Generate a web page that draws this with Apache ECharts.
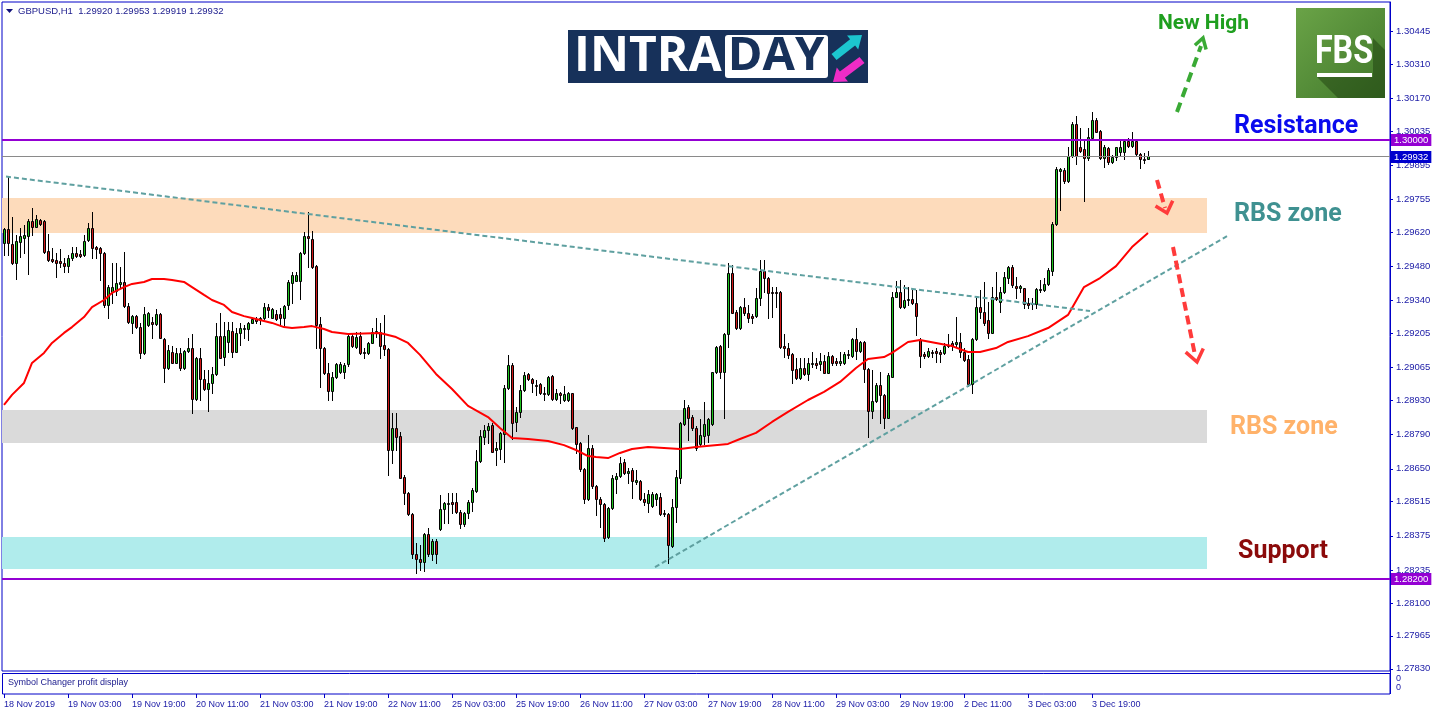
<!DOCTYPE html>
<html><head><meta charset="utf-8">
<script src="https://cdn.jsdelivr.net/npm/echarts@6/dist/echarts.min.js"></script>
<style>html,body{margin:0;padding:0;background:#fff}#c{width:1436px;height:716px}</style>
</head><body><div id="c"></div>
<script>
// ---------------- DATA ----------------
const symbolTitle = 'GBPUSD,H1';
const lastQuote = [1.29920, 1.29953, 1.29919, 1.29932]; // O H L C of last bar
const startTime = '2019-11-18T11:00:00Z';
const slotCount = 347;        // bars + empty right margin of the chart
const labelEvery = 16;

const opens = [
1.29576,1.29632,1.29572,1.29492,1.29581,1.29597,1.29606,1.29666,1.29643,1.29670,
1.29666,1.29543,1.29510,1.29506,1.29502,1.29492,1.29483,1.29513,1.29533,1.29529,
1.29527,1.29588,1.29636,1.29558,1.29554,1.29533,1.29322,1.29376,1.29380,1.29406,
1.29416,1.29319,1.29249,1.29276,1.29232,1.29123,1.29240,1.29253,1.29242,1.29285,
1.29181,1.29062,1.29130,1.29085,1.29126,1.29062,1.29134,1.29144,1.28935,1.29105,
1.29017,1.28977,1.29000,1.29037,1.29194,1.29110,1.29171,1.29215,1.29130,1.29208,
1.29222,1.29222,1.29249,1.29263,1.29260,1.29267,1.29315,1.29270,1.29285,1.29285,
1.29267,1.29322,1.29413,1.29421,1.29421,1.29533,1.29604,1.29591,1.29481,1.29242,
1.29144,1.29044,1.28970,1.29025,1.29048,1.29048,1.29078,1.29194,1.29150,1.29194,
1.29128,1.29123,1.29167,1.29210,1.29212,1.29158,1.29140,1.28727,1.28816,1.28784,
1.28615,1.28549,1.28463,1.28299,1.28280,1.28269,1.28381,1.28299,1.28355,1.28402,
1.28485,1.28504,1.28514,1.28513,1.28474,1.28422,1.28467,1.28513,1.28560,1.28682,
1.28781,1.28809,1.28830,1.28727,1.28730,1.28791,1.28980,1.29075,1.28843,1.28884,
1.28973,1.29039,1.29018,1.28994,1.28998,1.28959,1.28955,1.29030,1.28935,1.28959,
1.28932,1.28932,1.28959,1.28820,1.28755,1.28649,1.28525,1.28734,1.28579,1.28525,
1.28505,1.28369,1.28488,1.28608,1.28622,1.28677,1.28631,1.28645,1.28597,1.28601,
1.28525,1.28508,1.28497,1.28525,1.28536,1.28470,1.28463,1.28333,1.28492,1.28611,
1.28834,1.28902,1.28861,1.28818,1.28750,1.28786,1.28789,1.28832,1.29046,1.29153,
1.29048,1.29203,1.29451,1.29294,1.29226,1.29315,1.29287,1.29278,1.29278,1.29352,
1.29461,1.29433,1.29374,1.29374,1.29374,1.29153,1.29144,1.29119,1.29059,1.29023,
1.29062,1.29039,1.29078,1.29083,1.29078,1.29092,1.29044,1.29112,1.29092,1.29083,
1.29083,1.29121,1.29114,1.29182,1.29133,1.29169,1.29059,1.28888,1.28929,1.28994,
1.28953,1.28859,1.29028,1.29356,1.29376,1.29315,1.29342,1.29346,1.29328,1.29178,
1.29119,1.29114,1.29130,1.29133,1.29130,1.29123,1.29158,1.29164,1.29160,1.29171,
1.29130,1.29099,1.28996,1.29181,1.29312,1.29292,1.29260,1.29208,1.29353,1.29335,
1.29374,1.29431,1.29476,1.29399,1.29393,1.29390,1.29328,1.29324,1.29326,1.29382,
1.29383,1.29408,1.29462,1.29654,1.29872,1.29875,1.29831,1.29932,1.30064,1.29968,
1.29960,1.29923,1.30005,1.30080,1.30035,1.29923,1.29966,1.29906,1.29930,1.29948,
1.29948,1.29994,1.29975,1.29994,1.29939,1.29920,1.29920];

const highs = [
1.29637,1.29848,1.29684,1.29609,1.29636,1.29650,1.29673,1.29721,1.29691,1.29673,
1.29670,1.29613,1.29554,1.29533,1.29551,1.29513,1.29527,1.29558,1.29561,1.29547,
1.29609,1.29656,1.29702,1.29563,1.29561,1.29540,1.29404,1.29492,1.29492,1.29476,
1.29540,1.29328,1.29281,1.29281,1.29246,1.29315,1.29294,1.29274,1.29304,1.29287,
1.29185,1.29158,1.29155,1.29144,1.29144,1.29137,1.29185,1.29203,1.29110,1.29144,
1.29055,1.29055,1.29069,1.29246,1.29287,1.29253,1.29253,1.29253,1.29226,1.29246,
1.29240,1.29253,1.29267,1.29274,1.29274,1.29331,1.29324,1.29308,1.29301,1.29308,
1.29322,1.29424,1.29458,1.29458,1.29540,1.29622,1.29702,1.29625,1.29486,1.29274,
1.29150,1.29083,1.29048,1.29083,1.29088,1.29083,1.29205,1.29205,1.29212,1.29212,
1.29144,1.29171,1.29226,1.29267,1.29246,1.29281,1.29144,1.28877,1.28877,1.28802,
1.28625,1.28556,1.28467,1.28344,1.28337,1.28385,1.28406,1.28361,1.28361,1.28543,
1.28515,1.28552,1.28552,1.28549,1.28481,1.28474,1.28522,1.28570,1.28727,1.28809,
1.28830,1.28836,1.28836,1.28761,1.28802,1.28994,1.29117,1.29083,1.28905,1.28994,
1.29048,1.29044,1.29021,1.29014,1.29003,1.28987,1.29030,1.29035,1.28976,1.28966,
1.28989,1.28966,1.28962,1.28823,1.28761,1.28652,1.28789,1.28747,1.28584,1.28536,
1.28508,1.28495,1.28625,1.28631,1.28699,1.28689,1.28652,1.28652,1.28645,1.28604,
1.28549,1.28563,1.28556,1.28552,1.28552,1.28481,1.28467,1.28525,1.28645,1.28843,
1.28932,1.28912,1.28871,1.28825,1.28854,1.28925,1.28857,1.29048,1.29155,1.29158,
1.29205,1.29492,1.29486,1.29301,1.29319,1.29349,1.29322,1.29285,1.29390,1.29506,
1.29506,1.29438,1.29397,1.29397,1.29379,1.29201,1.29164,1.29123,1.29103,1.29103,
1.29103,1.29103,1.29130,1.29103,1.29123,1.29117,1.29130,1.29117,1.29103,1.29130,
1.29130,1.29137,1.29185,1.29226,1.29174,1.29174,1.29062,1.29055,1.29000,1.29048,
1.28955,1.29041,1.29376,1.29420,1.29424,1.29404,1.29397,1.29392,1.29383,1.29185,
1.29130,1.29144,1.29137,1.29144,1.29137,1.29164,1.29201,1.29174,1.29274,1.29205,
1.29144,1.29117,1.29185,1.29352,1.29383,1.29417,1.29335,1.29397,1.29458,1.29397,
1.29458,1.29483,1.29486,1.29438,1.29404,1.29393,1.29349,1.29352,1.29390,1.29424,
1.29431,1.29472,1.29663,1.29889,1.29884,1.29882,1.29971,1.30073,1.30096,1.30046,
1.29998,1.30046,1.30114,1.30087,1.30039,1.29977,1.29971,1.29937,1.29971,1.29998,
1.29998,1.30005,1.30030,1.29998,1.29943,1.29946,1.29953];

const lows = [
1.29527,1.29527,1.29490,1.29427,1.29517,1.29533,1.29449,1.29609,1.29640,1.29650,
1.29536,1.29503,1.29499,1.29438,1.29479,1.29458,1.29458,1.29506,1.29520,1.29517,
1.29522,1.29583,1.29513,1.29513,1.29424,1.29315,1.29267,1.29328,1.29363,1.29397,
1.29315,1.29246,1.29205,1.29226,1.29103,1.29121,1.29237,1.29185,1.29240,1.29185,
1.29005,1.29059,1.29083,1.29083,1.29055,1.29059,1.29130,1.28880,1.28932,1.28932,
1.28973,1.28888,1.28959,1.29035,1.29103,1.29075,1.29130,1.29110,1.29128,1.29158,
1.29185,1.29178,1.29246,1.29246,1.29244,1.29264,1.29274,1.29267,1.29260,1.29240,
1.29240,1.29304,1.29331,1.29420,1.29345,1.29531,1.29479,1.29474,1.29144,1.28987,
1.29039,1.28932,1.28932,1.29021,1.29041,1.29021,1.29073,1.29150,1.29146,1.29121,
1.29105,1.29119,1.29164,1.29192,1.29103,1.29117,1.28625,1.28672,1.28727,1.28611,
1.28505,1.28460,1.28283,1.28221,1.28235,1.28231,1.28292,1.28276,1.28265,1.28399,
1.28429,1.28429,1.28470,1.28467,1.28406,1.28415,1.28447,1.28478,1.28556,1.28677,
1.28752,1.28755,1.28717,1.28666,1.28689,1.28679,1.28976,1.28771,1.28806,1.28864,
1.28970,1.29014,1.28966,1.28953,1.28955,1.28932,1.28953,1.28932,1.28932,1.28919,
1.28929,1.28928,1.28814,1.28713,1.28642,1.28511,1.28522,1.28570,1.28460,1.28413,
1.28355,1.28365,1.28484,1.28552,1.28618,1.28627,1.28590,1.28529,1.28588,1.28522,
1.28502,1.28474,1.28495,1.28502,1.28460,1.28456,1.28262,1.28331,1.28433,1.28593,
1.28830,1.28768,1.28809,1.28727,1.28747,1.28750,1.28761,1.28830,1.29041,1.29023,
1.28857,1.29150,1.29287,1.29223,1.29223,1.29281,1.29253,1.29246,1.29274,1.29322,
1.29376,1.29267,1.29274,1.29315,1.29144,1.29110,1.29103,1.29000,1.29018,1.29018,
1.29035,1.29014,1.29069,1.29062,1.29055,1.29041,1.29041,1.29075,1.29075,1.29075,
1.29078,1.29103,1.29110,1.29100,1.29128,1.29005,1.28781,1.28857,1.28925,1.28836,
1.28818,1.28857,1.29028,1.29353,1.29308,1.29308,1.29322,1.29324,1.29199,1.29069,
1.29103,1.29110,1.29110,1.29087,1.29089,1.29119,1.29150,1.29137,1.29150,1.29110,
1.29092,1.28991,1.28959,1.29178,1.29267,1.29240,1.29185,1.29205,1.29342,1.29294,
1.29369,1.29410,1.29397,1.29349,1.29376,1.29310,1.29308,1.29305,1.29308,1.29376,
1.29379,1.29404,1.29445,1.29650,1.29711,1.29820,1.29825,1.29930,1.29900,1.29950,
1.29749,1.29916,1.30001,1.30030,1.29920,1.29889,1.29900,1.29902,1.29916,1.29934,
1.29919,1.29971,1.29971,1.29937,1.29884,1.29902,1.29919];

const closes = [
1.29633,1.29575,1.29492,1.29584,1.29604,1.29609,1.29666,1.29643,1.29673,1.29652,
1.29540,1.29506,1.29503,1.29492,1.29492,1.29483,1.29513,1.29533,1.29524,1.29522,
1.29584,1.29636,1.29554,1.29552,1.29533,1.29322,1.29397,1.29397,1.29410,1.29416,
1.29319,1.29253,1.29276,1.29230,1.29123,1.29285,1.29287,1.29242,1.29285,1.29185,
1.29062,1.29137,1.29085,1.29126,1.29062,1.29133,1.29144,1.28935,1.29103,1.29017,
1.28977,1.29000,1.29037,1.29194,1.29105,1.29194,1.29219,1.29130,1.29208,1.29226,
1.29228,1.29249,1.29263,1.29257,1.29270,1.29315,1.29301,1.29304,1.29264,1.29267,
1.29317,1.29417,1.29443,1.29443,1.29533,1.29604,1.29595,1.29479,1.29240,1.29144,
1.29041,1.28970,1.29025,1.29078,1.29078,1.29075,1.29194,1.29155,1.29192,1.29123,
1.29123,1.29167,1.29212,1.29215,1.29155,1.29140,1.28727,1.28816,1.28781,1.28613,
1.28549,1.28463,1.28299,1.28279,1.28269,1.28381,1.28299,1.28355,1.28299,1.28484,
1.28508,1.28508,1.28507,1.28472,1.28422,1.28470,1.28515,1.28563,1.28682,1.28786,
1.28809,1.28825,1.28720,1.28736,1.28795,1.28980,1.29075,1.28839,1.28884,1.28973,
1.29035,1.29017,1.29000,1.28989,1.28959,1.28957,1.29028,1.28935,1.28959,1.28953,
1.28955,1.28959,1.28818,1.28750,1.28648,1.28525,1.28734,1.28579,1.28525,1.28505,
1.28365,1.28488,1.28611,1.28620,1.28672,1.28631,1.28642,1.28600,1.28604,1.28525,
1.28513,1.28545,1.28545,1.28545,1.28463,1.28465,1.28337,1.28492,1.28615,1.28836,
1.28898,1.28859,1.28816,1.28734,1.28789,1.28832,1.28854,1.29046,1.29150,1.29048,
1.29201,1.29451,1.29290,1.29226,1.29315,1.29287,1.29269,1.29269,1.29352,1.29461,
1.29433,1.29369,1.29369,1.29369,1.29150,1.29144,1.29117,1.29055,1.29021,1.29062,
1.29039,1.29083,1.29083,1.29075,1.29092,1.29044,1.29112,1.29083,1.29083,1.29092,
1.29121,1.29117,1.29182,1.29133,1.29169,1.29059,1.28888,1.28929,1.28994,1.28953,
1.28859,1.29035,1.29356,1.29376,1.29315,1.29342,1.29346,1.29328,1.29278,1.29114,
1.29114,1.29133,1.29123,1.29123,1.29121,1.29155,1.29155,1.29155,1.29171,1.29130,
1.29096,1.28996,1.29181,1.29312,1.29292,1.29246,1.29205,1.29353,1.29346,1.29374,
1.29435,1.29476,1.29404,1.29390,1.29399,1.29326,1.29322,1.29328,1.29386,1.29387,
1.29408,1.29465,1.29654,1.29878,1.29878,1.29831,1.29932,1.30064,1.29934,1.29954,
1.29923,1.30009,1.30080,1.30032,1.29923,1.29968,1.29906,1.29930,1.29968,1.29968,
1.29994,1.29975,1.29994,1.29939,1.29919,1.29916,1.29932];

// moving average: [bar index, value]
const maPoints = [[0,1.28912],[2,1.28953],[5,1.29002],[7,1.29084],[10,1.29125],[12,1.29166],[15,1.29207],[17,1.29231],[20,1.29272],[22,1.29313],[25,1.29342],[27,1.29371],[30,1.29395],[32,1.29408],[35,1.29416],[37,1.29428],[40,1.29428],[42,1.29424],[45,1.29416],[47,1.29395],[50,1.29363],[52,1.29342],[55,1.29322],[57,1.29293],[60,1.29276],[62,1.29268],[65,1.29256],[67,1.29248],[70,1.29231],[72,1.29227],[75,1.29231],[77,1.29235],[80,1.29223],[82,1.29211],[86,1.29203],[94,1.29207],[98,1.29190],[101,1.29166],[104,1.29117],[108,1.29039],[112,1.28977],[116,1.28908],[121,1.28862],[124,1.28817],[127,1.28776],[131,1.28772],[136,1.28764],[140,1.28747],[143,1.28727],[146,1.28702],[148,1.28698],[151,1.28694],[154,1.28715],[157,1.28731],[161,1.28739],[165,1.28735],[169,1.28731],[173,1.28739],[181,1.28752],[184,1.28772],[188,1.28797],[192,1.28842],[196,1.28883],[201,1.28932],[205,1.28965],[209,1.29006],[213,1.29063],[216,1.29100],[220,1.29108],[222,1.29125],[226,1.29170],[229,1.29178],[233,1.29166],[237,1.29153],[241,1.29129],[244,1.29129],[248,1.29145],[251,1.29170],[256,1.29194],[261,1.29227],[266,1.29281],[270,1.29395],[274,1.29432],[278,1.29481],[282,1.29559],[286,1.29617]];

const priceTicks = [1.30445,1.30310,1.30170,1.30035,1.29895,1.29755,1.29620,1.29480,1.29340,1.29205,1.29065,1.28930,1.28790,1.28650,1.28515,1.28375,1.28235,1.28100,1.27965,1.27830];
const priceMin = 1.278209, priceMax = 1.305638;

const resistanceLevel = 1.30000;
const supportLevel = 1.28200;
const bidLevel = lastQuote[3];
const levels = [[0, resistanceLevel], [0, supportLevel], [0, bidLevel]];

// zones: [startBar, endBar, low, high]
const zones = [
  [-0.5, 300.75, 1.29617, 1.29760],
  [-0.5, 300.75, 1.28756, 1.28891],
  [-0.5, 300.75, 1.28239, 1.28370]
];
const trendDown = [[0.5, 1.29848], [271.5, 1.29297]];
const trendUp = [[162.75, 1.28247], [305.75, 1.29604]];

// ---------------- BUILD ----------------
const MONTHS = ['Jan','Feb','Mar','Apr','May','Jun','Jul','Aug','Sep','Oct','Nov','Dec'];
const categories = [];
let t = Date.parse(startTime);
for (let i = 0; i < slotCount; i++) {
  const d = new Date(t);
  const day = d.getUTCDate() + ' ' + MONTHS[d.getUTCMonth()];
  categories.push(i === 0 ? day + ' ' + d.getUTCFullYear() : day + ' ' + String(d.getUTCHours()).padStart(2, '0') + ':00');
  t += 3600e3;
  if (new Date(t).getUTCDay() === 6) t += 48 * 3600e3;
}
const candleData = opens.map((o, i) => [i, o, closes[i], lows[i], highs[i]]);
const showTick = (idx) => idx % labelEvery === 0 && idx < opens.length;

const BLUE = '#0000c8', TXT = '#2020a8';
const BULL = '#1ec31e', BEAR = '#d01818';
const zoneColors = ['#fddbbb', '#dadada', '#b0ecec'];
const levelStyles = [
  {line: '#9400d3', width: 2, box: '#9400d3'},
  {line: '#9400d3', width: 2, box: '#9400d3'},
  {line: '#8a8a8a', width: 1, box: '#0000cd'}
];

const chart = echarts.init(document.getElementById('c'), null, {renderer: 'canvas'});
const header = symbolTitle + '  ' + lastQuote.map(v => v.toFixed(5)).join(' ');

const G = echarts.graphic;
const dashed = (pts, color, w, dash) => ({type: 'polyline', z: 50, shape: {points: pts}, style: {stroke: color, lineWidth: w, lineDash: dash, fill: null}});
const head = (pts, color) => ({type: 'polyline', z: 50, shape: {points: pts}, style: {stroke: color, lineWidth: 3.5, fill: null, lineJoin: 'miter'}});
const label = (x, y, text, color, size) => ({type: 'text', z: 50, x, y, style: {text, fill: color, fontSize: size, fontWeight: 'bold', fontFamily: 'Roboto', verticalAlign: 'middle'}});

const graphics = [
  {type: 'polygon', z: 50, shape: {points: [[6, 9], [13, 9], [9.5, 13]]}, style: {fill: '#10107a'}},
  {type: 'text', z: 50, x: 18, y: 11, style: {text: header, fill: '#1a1a8c', fontSize: 9.5, fontFamily: 'Liberation Sans', verticalAlign: 'middle'}},
  {type: 'rect', z: 5, shape: {x: 2.5, y: 673.5, width: 1387.5, height: 20.5}, style: {fill: '#fff', stroke: BLUE, lineWidth: 1}},
  {type: 'text', z: 50, x: 8, y: 683, style: {text: 'Symbol Changer profit display', fill: '#1a1a8c', fontSize: 9, fontFamily: 'Liberation Sans', verticalAlign: 'middle'}},
  {type: 'text', z: 50, x: 1396, y: 679, style: {text: '0', fill: TXT, fontSize: 9, fontFamily: 'Liberation Sans', verticalAlign: 'middle'}},
  {type: 'text', z: 50, x: 1396, y: 688, style: {text: '0', fill: TXT, fontSize: 9, fontFamily: 'Liberation Sans', verticalAlign: 'middle'}},
  {type: 'rect', z: 40, shape: {x: 568, y: 30, width: 300, height: 53}, style: {fill: '#17315a'}},
  {type: 'text', z: 41, x: 574, y: 57, style: {text: 'INTRA', fill: '#fff', fontSize: 48, fontWeight: 'bold', fontFamily: 'Open Sans', verticalAlign: 'middle'}},
  {type: 'rect', z: 41, shape: {x: 725, y: 35, width: 103, height: 43, r: 3}, style: {fill: '#fff'}},
  {type: 'text', z: 42, x: 776, y: 57, style: {text: 'DAY', fill: '#17315a', fontSize: 47, fontWeight: 'bold', fontFamily: 'Open Sans', align: 'center', verticalAlign: 'middle'}},
  {type: 'polygon', z: 42, shape: {points: [[831.5, 53.9], [850.1, 39.3], [847, 35.4], [862, 35], [858.2, 49.4], [855.1, 45.5], [836.5, 60.1]]}, style: {fill: '#1cc6cf'}},
  {type: 'polygon', z: 42, shape: {points: [[859.5, 56.9], [839.9, 71.5], [836.8, 67.6], [833, 82], [848, 81.6], [844.9, 77.7], [864.5, 63.1]]}, style: {fill: '#ee2cc6'}},
  {type: 'rect', z: 40, shape: {x: 1296, y: 8, width: 89, height: 90}, style: {fill: new G.LinearGradient(0, 0, 1, 1, [{offset: 0, color: '#6aa347'}, {offset: 1, color: '#41782b'}])}},
  {type: 'polygon', z: 41, shape: {points: [[1373, 38], [1385, 50], [1385, 98], [1338, 98], [1317, 77], [1373, 77]]}, style: {fill: 'rgba(25,55,12,0.45)'}},
  {type: 'text', z: 42, x: 1344, y: 53, scaleX: 0.85, style: {text: 'FBS', fill: '#fff', fontSize: 38, fontWeight: 'bold', fontFamily: 'Roboto', align: 'center', verticalAlign: 'middle'}},
  {type: 'rect', z: 42, shape: {x: 1317, y: 73, width: 55, height: 4}, style: {fill: '#fff'}},
  label(1158, 24, 'New High', '#1f9f1f', 21),
  label(1234, 127, 'Resistance', '#0a0aee', 25),
  label(1234, 215, 'RBS zone', '#3f9191', 25),
  label(1230, 428, 'RBS zone', '#ffb26a', 25),
  label(1238, 552, 'Support', '#8b0a0a', 25),
  dashed([[1177, 112], [1201, 46]], '#3aaa35', 4, [10, 6]),
  head([[1194.9, 45.3], [1203, 38], [1206.1, 49.5]], '#3aaa35'),
  dashed([[1157, 180], [1165, 208]], '#ff3b3b', 4, [9, 5]),
  head([[1155.5, 206], [1167, 213], [1172.7, 200.8]], '#ff3b3b'),
  dashed([[1173, 247], [1195, 355]], '#ff3b3b', 4, [9, 5]),
  head([[1185.7, 352.1], [1197, 362], [1203.3, 348.5]], '#ff3b3b'),
  {type: 'line', z: 6, shape: {x1: 1390.5, y1: 671, x2: 1390.5, y2: 694}, style: {stroke: BLUE, lineWidth: 1}}
];

chart.setOption({
  animation: false,
  backgroundColor: '#fff',
  grid: {left: 2, right: 46, top: 2, bottom: 45, show: true, borderColor: BLUE, borderWidth: 1, backgroundColor: 'transparent'},
  xAxis: [
    {type: 'category', data: categories, boundaryGap: true, offset: 23,
     axisLine: {show: false},
     axisTick: {show: true, interval: showTick, alignWithLabel: true, length: 4, lineStyle: {color: BLUE}},
     axisLabel: {interval: showTick, align: 'left', color: TXT, fontSize: 9, fontFamily: 'Liberation Sans', margin: 6}},
    {type: 'value', min: -0.5, max: slotCount - 0.5, show: false}
  ],
  yAxis: {type: 'value', position: 'right', min: priceMin, max: priceMax, scale: true,
    splitLine: {show: false},
    axisLine: {show: true, onZero: false, lineStyle: {color: BLUE}},
    axisTick: {show: true, customValues: priceTicks, length: 3, lineStyle: {color: BLUE}},
    axisLabel: {customValues: priceTicks, formatter: v => v.toFixed(5), color: TXT, fontSize: 9.5, fontFamily: 'Liberation Sans', margin: 6}},
  series: [
    {type: 'custom', name: 'zones', xAxisIndex: 1, z: 1, silent: true, clip: true,
     encode: {x: [0, 1], y: [2, 3]}, data: zones,
     renderItem: (params, api) => {
       const p0 = api.coord([api.value(0), api.value(3)]);
       const p1 = api.coord([api.value(1), api.value(2)]);
       return {type: 'rect', shape: {x: p0[0], y: p0[1], width: p1[0] - p0[0], height: p1[1] - p0[1]}, style: {fill: zoneColors[params.dataIndex]}};
     }},
    {type: 'custom', name: 'GBPUSD', xAxisIndex: 0, z: 2, silent: true, clip: true,
     encode: {x: 0, y: [1, 2, 3, 4]}, data: candleData,
     renderItem: (params, api) => {
       const i = api.value(0), o = api.value(1), c = api.value(2), l = api.value(3), h = api.value(4);
       const pO = api.coord([i, o]), pC = api.coord([i, c]), pL = api.coord([i, l]), pH = api.coord([i, h]);
       const cx = Math.round(pO[0]);
       const yTop = Math.round(Math.min(pO[1], pC[1])), yBot = Math.round(Math.max(pO[1], pC[1]));
       return {type: 'group', children: [
         {type: 'line', shape: {x1: cx + 0.5, y1: Math.round(pH[1]), x2: cx + 0.5, y2: Math.round(pL[1]) + 1}, style: {stroke: '#000', lineWidth: 1}},
         {type: 'rect', shape: {x: cx - 0.5, y: yTop + 0.5, width: 2, height: Math.max(yBot - yTop, 0)}, style: {fill: c >= o ? BULL : BEAR, stroke: '#000', lineWidth: 1}}
       ]};
     }},
    {type: 'line', name: 'MA', xAxisIndex: 1, z: 4, data: maPoints, showSymbol: false, silent: true,
     lineStyle: {color: '#ff0000', width: 2}},
    {type: 'line', name: 'trendDown', xAxisIndex: 1, z: 5, data: trendDown, showSymbol: false, silent: true,
     lineStyle: {color: '#5fa0a0', width: 2, type: [5, 3]}},
    {type: 'line', name: 'trendUp', xAxisIndex: 1, z: 5, data: trendUp, showSymbol: false, silent: true,
     lineStyle: {color: '#5fa0a0', width: 2, type: [5, 3]}},
    {type: 'custom', name: 'levels', xAxisIndex: 1, z: 6, silent: true, clip: false,
     encode: {x: 0, y: 1}, data: levels,
     renderItem: (params, api) => {
       const v = api.value(1);
       const st = levelStyles[params.dataIndex];
       const cs = params.coordSys;
       const y = Math.round(api.coord([0, v])[1]) + (st.width === 1 ? 0.5 : 0);
       return {type: 'group', children: [
         {type: 'line', shape: {x1: cs.x, y1: y, x2: cs.x + cs.width, y2: y}, style: {stroke: st.line, lineWidth: st.width}},
         {type: 'text', x: cs.x + cs.width + 1, y: Math.round(y), style: {text: v.toFixed(5), fill: '#fff', backgroundColor: st.box, padding: [1, 3, 1, 3], fontSize: 9.5, fontFamily: 'Liberation Sans', verticalAlign: 'middle'}}
       ]};
     }}
  ],
  graphic: {elements: graphics}
});
</script></body></html>
